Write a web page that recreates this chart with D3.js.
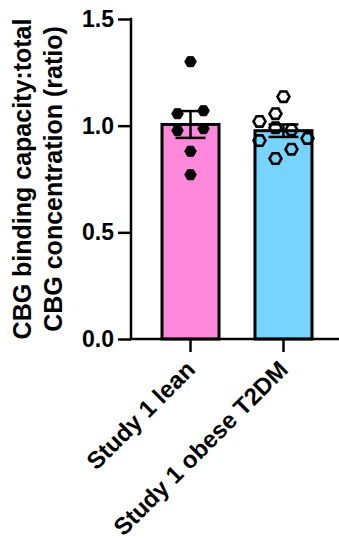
<!DOCTYPE html>
<html>
<head>
<meta charset="utf-8">
<script src="https://cdn.jsdelivr.net/npm/d3@7"></script>
<style>
  body { margin: 0; background: #fff; }
  svg { display: block; font-family: "Liberation Sans", Arial, sans-serif; font-weight: bold; }
</style>
</head>
<body>
<svg id="vis" width="339" height="540"></svg>
<script>
// groups and values
const groups = ["Study 1 lean", "Study 1 obese T2DM"]
const groupColors = ["#ff88dd", "#77d4ff"]
const leanValues = [1.30, 1.056, 1.07, 0.977, 0.986, 0.88, 0.77]
const obeseValues = [1.136, 1.056, 1.02, 0.99, 0.98, 0.93, 0.94, 0.89, 0.846]
// horizontal jitter slot for each point
const leanSlots = [0, -1, 1, -1, 1, 0, 0]
const obeseSlots = [0, -0.5, -1.5, -0.5, 0.5, -1.5, 1.5, 0.5, -0.5]
const yTicks = [0, 0.5, 1.0, 1.5]
const yTitle = ["CBG binding capacity:total", "CBG concentration (ratio)"]

const svg = d3.select("#vis")
const margin = {top: 19, left: 131, bottom: 339, right: 339}

const y = d3.scaleLinear().domain([0, 1.5]).range([margin.bottom, margin.top])
const x = d3.scaleBand().domain(groups).range([133, 341]).paddingInner(0.387).paddingOuter(0.312)

const series = [leanValues, obeseValues]
const slots = [leanSlots, obeseSlots]
const slotWidth = [13, 16]

const stats = series.map(v => {
  const m = d3.mean(v)
  const sem = d3.deviation(v) / Math.sqrt(v.length)
  return {mean: m, sem: sem}
})

// bars
svg.selectAll("rect.bar")
  .data(groups)
  .join("rect")
  .attr("class", "bar")
  .attr("x", d => x(d))
  .attr("width", x.bandwidth())
  .attr("y", (d, i) => y(stats[i].mean))
  .attr("height", (d, i) => y(0) - y(stats[i].mean))
  .attr("fill", (d, i) => groupColors[i])
  .attr("stroke", "#000")
  .attr("stroke-width", 3)

// hexagon path
const hex = r => {
  let p = []
  for (let k = 0; k < 6; k++) {
    const a = Math.PI / 3 * k
    p.push([r * Math.cos(a), r * Math.sin(a)])
  }
  return "M" + p.map(q => q.join(",")).join("L") + "Z"
}

// points
groups.forEach((g, gi) => {
  const cx = x(g) + x.bandwidth() / 2
  svg.append("g")
    .selectAll("path")
    .data(series[gi])
    .join("path")
    .attr("d", gi === 0 ? hex(5.8) : hex(6))
    .attr("transform", (d, i) => `translate(${cx + slots[gi][i] * slotWidth[gi]},${y(d)})`)
    .attr("fill", gi === 0 ? "#000" : "none")
    .attr("stroke", "#000")
    .attr("stroke-width", gi === 0 ? 1 : 2.6)
})

// error bars (mean +/- SEM)
groups.forEach((g, gi) => {
  const cx = x(g) + x.bandwidth() / 2
  const s = stats[gi]
  const eg = svg.append("g").attr("stroke", "#000").attr("stroke-width", 2.5)
  eg.append("line").attr("x1", cx).attr("x2", cx)
    .attr("y1", y(s.mean - s.sem)).attr("y2", y(s.mean + s.sem))
  ;[s.mean - s.sem, s.mean + s.sem].forEach(v => {
    eg.append("line").attr("x1", cx - 15).attr("x2", cx + 15)
      .attr("y1", y(v)).attr("y2", y(v))
  })
})

// y axis
const yAxis = svg.append("g")
  .attr("transform", `translate(${margin.left},0)`)
  .call(d3.axisLeft(y).tickValues(yTicks).tickFormat(d3.format(".1f")).tickSize(13).tickPadding(4))
yAxis.select(".domain").remove()
yAxis.selectAll(".tick line").attr("stroke-width", 2.5)
yAxis.selectAll("text").attr("font-size", 23).attr("font-weight", "bold").attr("fill", "#000")
  .attr("font-family", "Liberation Sans, Arial, sans-serif")
svg.append("line").attr("x1", margin.left).attr("x2", margin.left)
  .attr("y1", y(1.5) - 1.25).attr("y2", y(0)).attr("stroke", "#000").attr("stroke-width", 2.5)

// x axis
const xAxis = svg.append("g")
  .attr("transform", `translate(0,${y(0)})`)
  .call(d3.axisBottom(x).tickSize(13).tickSizeOuter(0).tickFormat(""))
xAxis.select(".domain").attr("d", `M${margin.left - 1.25},0H${margin.right}`).attr("stroke-width", 2.5)
xAxis.selectAll(".tick line").attr("stroke-width", 2.5)
xAxis.selectAll(".tick").append("text")
  .attr("fill", "#000")
  .attr("font-size", 24)
  .attr("font-weight", "bold")
  .attr("font-family", "Liberation Sans, Arial, sans-serif")
  .attr("text-anchor", "end")
  .attr("transform", "translate(6,32) rotate(-45)")
  .text(d => d)

// y title
const title = svg.append("text")
  .attr("transform", `translate(31,${(y(0) + y(1.5)) / 2}) rotate(-90)`)
  .attr("text-anchor", "middle")
  .attr("font-size", 25)
  .attr("fill", "#000")
title.selectAll("tspan")
  .data(yTitle)
  .join("tspan")
  .attr("x", 0)
  .attr("dy", (d, i) => i === 0 ? "0" : "1.24em")
  .text(d => d)
</script>
</body>
</html>
